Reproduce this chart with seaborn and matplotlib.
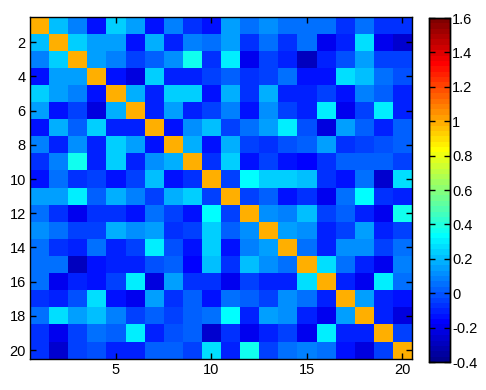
import numpy as np
import pandas as pd
import matplotlib
matplotlib.use("Agg")
import matplotlib.pyplot as plt
from matplotlib.colors import ListedColormap
import seaborn as sns

labels = list(range(1, 21))
row01 = [1, .2, .07, -.12, .24, .16, -.12, .07, -.08, -.15, .16, .05, .1, .05, .06, .06, -.07, .05, -.07, -.07]
row02 = [.2, 1, .24, .16, .15, -.12, .17, -.1, .08, .05, .15, -.07, .05, -.07, .05, -.2, -.1, .26, -.2, -.25]
row03 = [.07, .24, 1, .16, .08, -.03, .03, .1, .35, -.07, .3, -.2, -.05, -.1, -.3, -.1, 0, .14, -.05, -.05]
row04 = [-.12, .16, .16, 1, -.15, -.22, .24, -.1, -.1, -.03, .03, -.07, -.03, .06, -.12, -.15, .28, .2, .05, 0]
row05 = [.24, .15, .08, -.15, 1, .17, -.1, .24, .24, -.12, .17, -.07, .17, -.1, -.1, -.03, -.15, .08, .03, -.1]
row06 = [.16, -.12, -.03, -.22, .17, 1, -.1, .16, -.1, -.05, .08, -.15, .1, -.03, -.1, .3, -.2, -.03, .3, -.1]
row07 = [-.12, .17, .03, .24, -.1, -.1, 1, -.15, .1, .22, -.03, .06, .16, .3, 0, -.22, .14, .03, -.1, .03]
row08 = [.07, -.1, .1, -.1, .24, .16, -.15, 1, .17, -.12, .17, -.03, -.07, 0, .03, .14, -.07, -.03, 0, .03]
row09 = [-.08, .08, .35, -.1, .24, -.1, .1, .17, 1, -.07, .24, -.15, -.03, -.15, -.18, -.07, .03, .03, .03, -.05]
row10 = [-.15, .05, -.07, -.03, -.12, -.05, .22, -.12, -.07, 1, -.05, .33, .24, .24, .2, -.07, -.15, .05, -.25, .28]
row11 = [.16, .15, .3, .03, .17, .08, -.03, .17, .24, -.05, 1, -.05, .03, -.12, -.07, -.2, .05, .33, -.07, -.1]
row12 = [.05, -.07, -.2, -.07, -.07, -.15, .06, -.03, -.15, .33, -.05, 1, .1, .08, .2, -.05, .03, -.1, -.2, .35]
row13 = [.1, .05, -.05, -.03, .17, .1, .16, -.07, -.03, .24, .03, .1, 1, .14, .1, -.1, -.05, .14, -.1, -.05]
row14 = [.05, -.07, -.1, .06, -.1, -.03, .3, 0, -.15, .24, -.12, .08, .14, 1, .06, -.1, .1, .1, -.05, .06]
row15 = [.06, .05, -.3, -.12, -.1, -.1, 0, .03, -.18, .2, -.07, .2, .1, .06, 1, .28, .06, -.1, -.2, .08]
row16 = [.06, -.2, -.1, -.15, -.03, .3, -.22, .14, -.07, -.07, -.2, -.05, -.1, -.1, .28, 1, -.1, -.2, .3, .05]
row17 = [-.07, -.1, 0, .28, -.15, -.2, .14, -.07, .03, -.15, .05, .03, -.05, .1, .06, -.1, 1, .14, -.1, -.15]
row18 = [.05, .26, .14, .2, .08, -.03, .03, -.03, .03, .05, .33, -.1, .14, .1, -.1, -.2, .14, 1, -.1, -.22]
row19 = [-.07, -.2, -.05, .05, .03, .3, -.1, 0, .03, -.25, -.07, -.2, -.1, -.05, -.2, .3, -.1, -.1, 1, -.05]
row20 = [-.07, -.25, -.05, 0, -.1, -.1, .03, .03, -.05, .28, -.1, .35, -.05, .06, .08, .05, -.15, -.22, -.05, 1]

rows = [row01, row02, row03, row04, row05, row06, row07, row08, row09, row10,
        row11, row12, row13, row14, row15, row16, row17, row18, row19, row20]
df = pd.DataFrame(rows, index=labels, columns=labels)

x_ticks = [5, 10, 15, 20]
y_ticks = [2, 4, 6, 8, 10, 12, 14, 16, 18, 20]
cbar_ticks = [-0.4, -0.2, 0, 0.2, 0.4, 0.6, 0.8, 1, 1.2, 1.4, 1.6]
cbar_labels = ["-0.4", "-0.2", "0", "0.2", "0.4", "0.6", "0.8", "1", "1.2", "1.4", "1.6"]


def matlab_jet(m=64):
    n = int(np.ceil(m / 4))
    u = np.concatenate([np.arange(1, n + 1) / n, np.ones(n - 1), np.arange(n, 0, -1) / n])
    g = int(np.ceil(n / 2)) - (1 if m % 4 == 1 else 0) + np.arange(1, len(u) + 1)
    r = g + n
    b = g - n
    J = np.zeros((m, 3))
    mr = r <= m
    J[r[mr] - 1, 0] = u[mr]
    mg = g <= m
    J[g[mg] - 1, 1] = u[mg]
    mb = b >= 1
    J[b[mb] - 1, 2] = u[mb]
    return ListedColormap(J)


FS = 10.5
plt.rcParams['font.family'] = ['Liberation Sans', 'DejaVu Sans']
fig = plt.figure(figsize=(4.86, 3.9), dpi=100)
ax = fig.add_axes([30/486, 31.3/390, 382/486, 342.2/390])
cax = fig.add_axes([429.3/486, 28/390, 20.7/486, 344/390])

sns.heatmap(df, ax=ax, cbar_ax=cax, cmap=matlab_jet(64), vmin=-0.4, vmax=1.6,
            xticklabels=False, yticklabels=False)

ax.set_xticks([labels.index(v) + 0.5 for v in x_ticks])
ax.set_xticklabels([str(v) for v in x_ticks], fontsize=FS)
ax.set_yticks([labels.index(v) + 0.5 for v in y_ticks])
ax.set_yticklabels([str(v) for v in y_ticks], fontsize=FS, rotation=0)
ax.set_xlabel("")
ax.set_ylabel("")
ax.tick_params(direction='in', length=4, width=1, top=True, right=True,
               color='black', labelsize=FS, pad=3)
for s in ax.spines.values():
    s.set_visible(True)
    s.set_linewidth(1)
    s.set_color('black')

cax.set_yticks(cbar_ticks)
cax.set_yticklabels(cbar_labels, fontsize=FS)
cax.tick_params(direction='in', length=4, width=1, left=True, right=True,
                labelleft=False, labelright=True, color='black', pad=1.5)
for s in cax.spines.values():
    s.set_visible(True)
    s.set_linewidth(1)
    s.set_color('black')

fig.savefig("out.png", dpi=100)
